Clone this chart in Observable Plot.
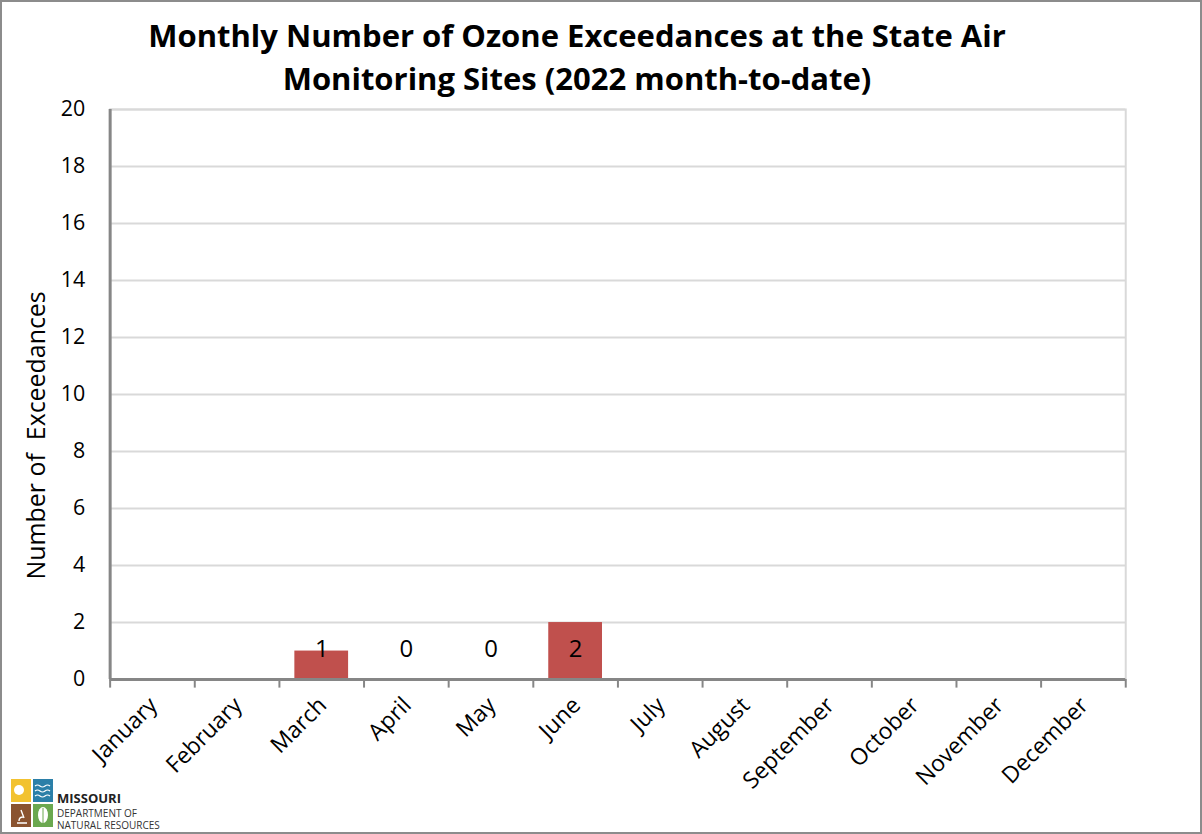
<!DOCTYPE html>
<html>
<head>
<meta charset="utf-8">
<script src="https://cdn.jsdelivr.net/npm/d3@7"></script>
<script src="https://cdn.jsdelivr.net/npm/@observablehq/plot@0.6"></script>
<style>
  html, body { margin: 0; padding: 0; background: #fff; }
  #page { position: relative; width: 1202px; height: 834px; box-sizing: border-box; border: 2px solid #8c8c8c; overflow: hidden; font-family: "Open Sans", sans-serif; }
  #title { position: absolute; left: 0; top: 12px; width: 1150px; text-align: center; font-weight: 700; font-size: 31px; line-height: 43px; color: #000; }
  #chart { position: absolute; left: -2px; top: 98px; }
  #logo { position: absolute; left: 7px; top: 774px; width: 150px; height: 55px; }
  #logo svg { position: absolute; left: 0; top: 0; }
  .lt { position: absolute; left: 48px; white-space: nowrap; color: #333; font-family: "Liberation Sans Narrow", "Open Sans", sans-serif; }
</style>
</head>
<body>
<div id="page">
  <div id="title">Monthly Number of Ozone Exceedances at the State Air<br>Monitoring Sites (2022 month-to-date)</div>
  <div id="chart"></div>
  <div id="logo">
    <svg width="46" height="52">
      <rect x="2" y="3" width="20" height="23" fill="#f2c230"/>
      <circle cx="10" cy="14" r="5" fill="#fff"/>
      <rect x="24" y="3" width="20" height="23" fill="#2b7fa8"/>
      <path d="M26 10 q2.5 -2 5 0 t5 0 t5 0 M26 15 q2.5 -2 5 0 t5 0 t5 0 M26 20 q2.5 -2 5 0 t5 0 t5 0" stroke="#fff" fill="none" stroke-width="1.2"/>
      <rect x="2" y="28" width="20" height="23" fill="#8a5330"/>
      <path d="M8 47 h10 M12 34 l3 8 M10 45 q0 -4 4 -4" stroke="#fff" fill="none" stroke-width="1.4"/>
      <rect x="24" y="28" width="20" height="23" fill="#6aa84f"/>
      <ellipse cx="34" cy="39" rx="5" ry="8" fill="#fff"/>
      <path d="M34 32 v15" stroke="#6aa84f" stroke-width="1"/>
    </svg>
    <div class="lt" style="top:16px;height:13px;line-height:13px;font-size:13px;font-weight:700;color:#222">MISSOURI</div>
    <div class="lt" style="top:31.5px;height:11px;line-height:11px;font-size:10px;">DEPARTMENT OF</div>
    <div class="lt" style="top:43.5px;height:11px;line-height:11px;font-size:10px;">NATURAL RESOURCES</div>
  </div>
</div>
<script>
const months = ["January","February","March","April","May","June","July","August","September","October","November","December"];
const exceedances = [null, null, 1, 0, 0, 2, null, null, null, null, null, null];
const yTicks = [0, 2, 4, 6, 8, 10, 12, 14, 16, 18, 20];
const yTitle = "Number of  Exceedances";

const data = months.map((m, i) => ({month: m, value: exceedances[i]}));
const reported = data.filter(d => d.value !== null);

const W = 1204, H = 736;
const mL = 110, mR = 75, mT = 9, mB = 155;
const band = (W - mL - mR) / months.length;

const chart = Plot.plot({
  width: W,
  height: H,
  marginLeft: mL,
  marginRight: mR,
  marginTop: mT,
  marginBottom: mB,
  style: {fontFamily: "'Open Sans', sans-serif", fontSize: "21px", color: "#000", background: "transparent", overflow: "visible"},
  x: {domain: months, padding: 0, round: false, label: null},
  y: {domain: [0, 20], ticks: yTicks, label: null},
  marks: [
    Plot.ruleY(yTicks.filter(t => t > 0), {stroke: "#d9d9d9", strokeWidth: 2}),
    Plot.frame({stroke: "#d9d9d9", strokeWidth: 2}),
    Plot.barY(reported, {x: "month", y: "value", fill: "#c0504d", insetLeft: 15.5, insetRight: 15.5}),
    Plot.ruleX(months, {x: d => d, dx: -band / 2, y1: 0, y2: -0.3, stroke: "#868686", strokeWidth: 2}),
    Plot.ruleX([months[months.length - 1]], {x: d => d, dx: band / 2, y1: 0, y2: -0.3, stroke: "#868686", strokeWidth: 2}),
    Plot.ruleY([0], {stroke: "#868686", strokeWidth: 3}),
    Plot.ruleX([months[0]], {x: d => d, dx: -band / 2, y1: 0, y2: 20, stroke: "#868686", strokeWidth: 3}),
    Plot.axisY({ticks: yTicks, tickSize: 0, tickPadding: 25, fontSize: 21.5, label: null}),
    Plot.text([yTitle], {frameAnchor: "left", textAnchor: "middle", text: d => d, rotate: -90, dx: -73, dy: 41, fontSize: 25, fill: "#000"}),
    Plot.axisX({tickSize: 0, tickRotate: -45, tickPadding: 22, fontSize: 23, label: null, dx: 1}),
    Plot.text(reported, {x: "month", y: 1.05, text: d => String(d.value), fontSize: 24, fill: "#000"})
  ]
});
document.getElementById("chart").appendChild(chart);
</script>
</body>
</html>
